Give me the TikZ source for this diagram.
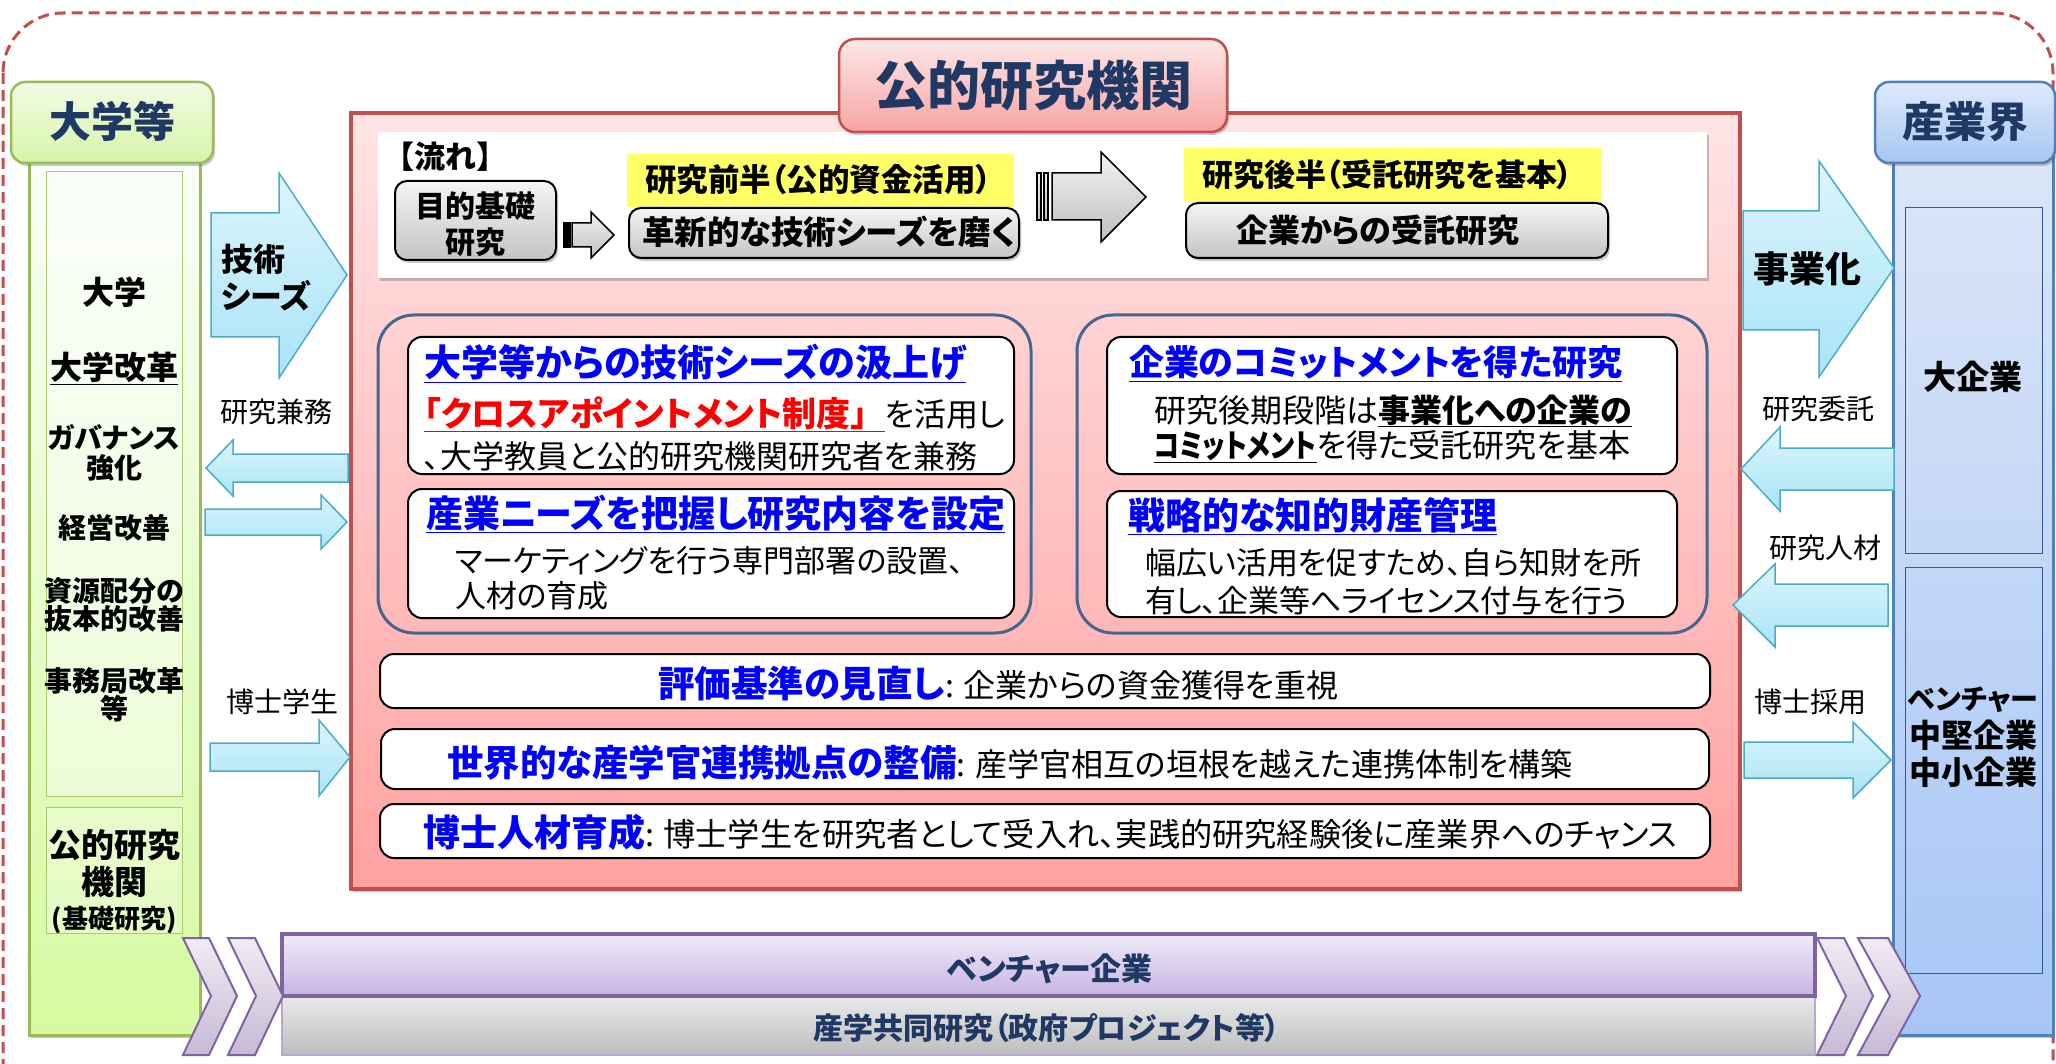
\documentclass[tikz,border=0pt]{standalone}
\usepackage{graphicx}
\usepackage{fontspec}
\setmainfont{Noto Sans CJK JP}[RawFeature=+palt]
\newfontfamily\fullw{Noto Sans CJK JP}
\usetikzlibrary{shadows}
\definecolor{dashred}{HTML}{C0504D}
\definecolor{navy}{HTML}{1F3864}
\definecolor{tblue}{HTML}{0000FF}
\definecolor{tred}{HTML}{FF0000}
\definecolor{greenB}{HTML}{9BBB59}
\definecolor{greenIn}{HTML}{A9CD6E}
\definecolor{blueB}{HTML}{4F81BD}
\definecolor{blueIn}{HTML}{2E5A9C}
\definecolor{contB}{HTML}{45678F}
\definecolor{cyanB}{HTML}{4BACC6}
\definecolor{cyanT}{HTML}{DDF5FC}
\definecolor{cyanBot}{HTML}{A8E4F8}
\definecolor{purB}{HTML}{8064A2}
\definecolor{purL}{HTML}{B9A6D6}
\definecolor{yel}{HTML}{FFFF66}
\newcommand\fs[1]{\fontsize{#1}{#1}\selectfont}
\newcommand\mkbox[6]{\node[#6, minimum width={(#4-#2)*1pt}, minimum height={(#5-#3)*1pt}] (#1) at ({(#2+#4)/2},{(#3+#5)/2}) {};}
\begin{document}
\begin{tikzpicture}[x=1pt,y=-1pt,
  boxbase/.style={rectangle,inner sep=0pt,outer sep=0pt},
  shadowsty/.style={drop shadow={shadow xshift=2pt,shadow yshift=-3pt,opacity=.3,fill=black!70}},
  txt/.style={inner sep=0pt,outer sep=0pt,text=black},
  graybox/.style={boxbase,rounded corners=12pt,draw=black,line width=2pt,top color=black!4,bottom color=black!23,shadowsty},
  grayarrow/.style={draw=black,line width=1.5pt,top color=black!5,bottom color=black!25},
  whitebox/.style={boxbase,rounded corners=14pt,draw=black,line width=2pt,fill=white},
  contbox/.style={boxbase,rounded corners=36pt,draw=contB,line width=3pt},
  cyanarrow/.style={draw=cyanB,line width=1.5pt,top color=cyanT,bottom color=cyanBot},
  chev/.style={draw=purB,line width=2pt,top color=purB!12,bottom color=purB!45},
  lbl/.style={txt,anchor=base,font=\fs{28}},
]
\useasboundingbox (0,0) rectangle (2056,1064);
\clip (0,0) rectangle (2056,1064);
\fill[white] (0,0) rectangle (2056,1064);
\draw[dashred,line width=3pt,dash pattern=on 11pt off 6pt,rounded corners=60pt] (3,13) rectangle (2053,1140);

% ---------- left column
\mkbox{ubody}{29}{150}{200}{1035}{boxbase,draw=greenB,line width=3pt,top color=green!2!white,bottom color={rgb,255:red,214;green,250;blue,160},shadowsty}
\mkbox{uhead}{11}{82}{213}{163}{boxbase,rounded corners=14pt,draw=greenB,line width=2.5pt,top color={rgb,255:red,243;green,251;blue,228},bottom color={rgb,255:red,214;green,245;blue,168},shadowsty}
\node[txt,anchor=base,font=\bfseries\fs{42},text=navy] (uheadt) at (112,138) {大学等};
\mkbox{uin1}{46}{172}{182}{796}{boxbase,draw=greenIn,line width=1pt,fill=white,fill opacity=.45}
\mkbox{uin2}{46}{807}{182}{933}{boxbase,draw=greenIn,line width=1pt,fill=white,fill opacity=.3}
\node[txt,anchor=base,font=\bfseries\fs{32}] (u1) at (114,305) {大学};
\node[txt,anchor=base,font=\bfseries\fs{32}] (u2) at (114,380) {\underline{大学改革}};
\node[txt,anchor=base,font=\bfseries\fs{28}] (u3) at (114,448) {ガバナンス};
\node[txt,anchor=base,font=\bfseries\fs{28}] (u3b) at (114,478) {強化};
\node[txt,anchor=base,font=\bfseries\fs{28}] (u4) at (114,538) {経営改善};
\node[txt,anchor=base,font=\bfseries\fs{28}] (u5) at (114,601) {資源配分の};
\node[txt,anchor=base,font=\bfseries\fs{28}] (u5b) at (114,629) {抜本的改善};
\node[txt,anchor=base,font=\bfseries\fs{28}] (u6) at (114,691) {事務局改革};
\node[txt,anchor=base,font=\bfseries\fs{28}] (u6b) at (114,719) {等};
\node[txt,anchor=base,font=\bfseries\fs{33}] (u7) at (114,857) {公的研究};
\node[txt,anchor=base,font=\bfseries\fs{33}] (u7b) at (114,894) {機関};
\node[txt,anchor=base,font=\bfseries\fs{26}] (u7c) at (114,928) {(基礎研究)};

% ---------- right column
\mkbox{ibody}{1893}{150}{2053}{1035}{boxbase,draw=blueB,line width=3pt,top color={rgb,255:red,220;green,230;blue,248},bottom color={rgb,255:red,166;green,198;blue,246},shadowsty}
\mkbox{ihead}{1875}{82}{2055}{163}{boxbase,rounded corners=14pt,draw=blueB,line width=2.5pt,top color={rgb,255:red,222;green,234;blue,251},bottom color={rgb,255:red,168;green,198;blue,244},shadowsty}
\node[txt,anchor=base,font=\bfseries\fs{42},text=navy] (iheadt) at (1965,138) {産業界};
\mkbox{iin1}{1905}{208}{2042}{553}{boxbase,draw=blueIn,line width=1pt}
\mkbox{iin2}{1905}{567}{2042}{973}{boxbase,draw=blueIn,line width=1pt}
\node[txt,anchor=base,font=\bfseries\fs{33}] (i1) at (1973,390) {大企業};
\node[txt,anchor=base,font=\bfseries\fs{28}] (i2) at (1973,709) {ベンチャー};
\node[txt,anchor=base,font=\bfseries\fs{32}] (i3) at (1973,747) {中堅企業};
\node[txt,anchor=base,font=\bfseries\fs{32}] (i4) at (1973,784) {中小企業};

% ---------- main red box
\mkbox{pub}{351}{113}{1740}{889}{boxbase,draw=dashred,line width=4pt,top color={rgb,255:red,255;green,228;blue,228},bottom color={rgb,255:red,255;green,161;blue,161},shadowsty}
\mkbox{flow}{378}{132}{1707}{278}{boxbase,fill=white,shadowsty}
\mkbox{pubttlbox}{839}{39}{1227}{132}{boxbase,rounded corners=16pt,draw=dashred,line width=2.5pt,top color={rgb,255:red,253;green,231;blue,231},bottom color={rgb,255:red,248;green,164;blue,164},shadowsty}
\node[txt,anchor=base,font=\bfseries\fs{53},text=navy] (pubttl) at (1033,106) {公的研究機関};

% flow
\node[txt,anchor=base west,font=\fullw\bfseries\fs{31}] (flowlbl) at (383,169) {【流れ】};
\mkbox{fb1}{395}{181}{556}{260}{graybox}
\node[txt,anchor=base,font=\bfseries\fs{30}] (fb1a) at (475,218) {目的基礎};
\node[txt,anchor=base,font=\bfseries\fs{30}] (fb1b) at (475,254) {研究};
\filldraw[grayarrow] (564,223) rectangle (566,247);
\filldraw[grayarrow] (568,223) rectangle (570,247);
\filldraw[grayarrow] (572,223) -- (591,223) -- (591,212) -- (614,235) -- (591,258) -- (591,247) -- (572,247) -- cycle;
\mkbox{y1}{627}{154}{1014}{207}{boxbase,fill=yel}
\node[txt,anchor=base west,font=\bfseries\fs{31.5}] (y1t) at (645,192) {研究前半（公的資金活用）};
\mkbox{fb2}{629}{208}{1019}{258}{graybox}
\node[txt,anchor=base west,font=\bfseries\fs{32.5}] (fb2t) at (642,245) {革新的な技術シーズを磨く};
\filldraw[grayarrow] (1037,173) rectangle (1041,220);
\filldraw[grayarrow] (1044,173) rectangle (1048,220);
\filldraw[grayarrow] (1052,173) -- (1101,173) -- (1101,152) -- (1146,197) -- (1101,242) -- (1101,220) -- (1052,220) -- cycle;
\mkbox{y2}{1184}{148}{1601}{202}{boxbase,fill=yel}
\node[txt,anchor=base west,font=\bfseries\fs{31}] (y2t) at (1202,187) {研究後半（受託研究を基本）};
\mkbox{fb3}{1186}{203}{1608}{258}{graybox}
\node[txt,anchor=base west,font=\bfseries\fs{32}] (fb3t) at (1236,243) {企業からの受託研究};

% containers
\mkbox{lcont}{378}{315}{1031}{633}{contbox}
\mkbox{rcont}{1077}{315}{1707}{633}{contbox}
\mkbox{b1}{408}{337}{1014}{474}{whitebox}
\mkbox{b2}{408}{489}{1014}{618}{whitebox}
\mkbox{b3}{1107}{337}{1677}{474}{whitebox}
\mkbox{b4}{1107}{491}{1677}{617}{whitebox}
\node[txt,anchor=base west,font=\bfseries\fs{37},text=tblue] (b1t) at (424,377) {\underline{大学等からの技術シーズの汲上げ}};
\node[txt,anchor=base west] (b1l2) at (424,426) {{\bfseries\fs{34}\color{tred}\underline{「クロスアポイントメント制度{\fullw 」}}}{\fs{32}を活用し}};
\node[txt,anchor=base west,font=\fs{32}] (b1l3) at (424,468) {、大学教員と公的研究機関研究者を兼務};
\node[txt,anchor=base west,font=\bfseries\fs{37},text=tblue] (b2t) at (426,527) {\underline{産業ニーズを把握し研究内容を設定}};
\node[txt,anchor=base west,font=\fs{31}] (b2l2) at (455,572) {マーケティングを行う専門部署の設置、};
\node[txt,anchor=base west,font=\fs{31}] (b2l3) at (455,607) {人材の育成};
\node[txt,anchor=base west,font=\bfseries\fs{35},text=tblue] (b3t) at (1129,376) {\underline{企業のコミットメントを得た研究}};
\node[txt,anchor=base west,font=\fs{32}] (b3l2) at (1154,422) {研究後期段階は{\bfseries\underline{事業化への企業の}}};
\node[txt,anchor=base west,font=\fs{32}] (b3l3) at (1154,457) {{\bfseries\underline{\scalebox{0.82}[1]{コミットメント}}}を得た受託研究を基本};
\node[txt,anchor=base west,font=\bfseries\fs{37},text=tblue] (b4t) at (1128,529) {\underline{戦略的な知的財産管理}};
\node[txt,anchor=base west,font=\fs{31}] (b4l2) at (1145,574) {幅広い活用を促すため、自ら知財を所};
\node[txt,anchor=base west,font=\fs{31}] (b4l3) at (1145,612) {有し、企業等へライセンス付与を行う};

% bottom boxes in red
\mkbox{e1}{380}{654}{1710}{708}{whitebox}
\mkbox{e2}{381}{729}{1709}{789}{whitebox}
\mkbox{e3}{380}{804}{1710}{858}{whitebox}
\node[txt,anchor=base west] (e1t) at (658,697) {{\bfseries\fs{36.5}\color{tblue}評価基準の見直し}{\fs{32}: 企業からの資金獲得を重視}};
\node[txt,anchor=base west] (e2t) at (447,776) {{\bfseries\fs{36.5}\color{tblue}世界的な産学官連携拠点の整備}{\fs{32}: 産学官相互の垣根を越えた連携体制を構築}};
\node[txt,anchor=base west] (e3t) at (423,846) {{\bfseries\fs{37}\color{tblue}博士人材育成}{\fs{32.2}: 博士学生を研究者として受入れ、実践的研究経験後に産業界へのチャンス}};

% ---------- arrows left
\filldraw[cyanarrow] (211,213) -- (279,213) -- (279,173) -- (347,275) -- (279,378) -- (279,337) -- (211,337) -- cycle;
\node[txt,anchor=base west,font=\bfseries\fs{32}] (seeds1) at (221,272) {技術};
\node[txt,anchor=base west,font=\bfseries\fs{32}] (seeds2) at (221,309) {シーズ};
\node[lbl] (kenmu) at (276,422) {研究兼務};
\filldraw[cyanarrow] (206,468) -- (233,440) -- (233,454) -- (348,454) -- (348,482) -- (233,482) -- (233,496) -- cycle;
\filldraw[cyanarrow] (205,509) -- (321,509) -- (321,495) -- (347,522) -- (321,549) -- (321,535) -- (205,535) -- cycle;
\node[lbl] (hakushi) at (282,712) {博士学生};
\filldraw[cyanarrow] (210,743) -- (319,743) -- (319,720) -- (350,757) -- (319,796) -- (319,771) -- (210,771) -- cycle;

% ---------- arrows right
\filldraw[cyanarrow] (1743,211) -- (1819,211) -- (1819,161) -- (1894,268) -- (1819,377) -- (1819,330) -- (1743,330) -- cycle;
\node[txt,anchor=base,font=\bfseries\fs{36}] (jigyo) at (1807,283) {事業化};
\node[lbl] (itaku) at (1818,420) {研究委託};
\filldraw[cyanarrow] (1741,469) -- (1780,427) -- (1780,448) -- (1894,448) -- (1894,490) -- (1780,490) -- (1780,511) -- cycle;
\node[lbl] (jinzai) at (1825,558) {研究人材};
\filldraw[cyanarrow] (1733,605) -- (1775,564) -- (1775,584) -- (1888,584) -- (1888,626) -- (1775,626) -- (1775,647) -- cycle;
\node[lbl] (saiyo) at (1810,712) {博士採用};
\filldraw[cyanarrow] (1744,742) -- (1853,742) -- (1853,722) -- (1891,760) -- (1853,798) -- (1853,778) -- (1744,778) -- cycle;

% ---------- bottom bars
\mkbox{joint}{282}{996}{1815}{1055}{boxbase,draw=purL,line width=2pt,top color=black!8,bottom color=black!26}
\mkbox{vent}{282}{934}{1815}{996}{boxbase,draw=purB,line width=3.5pt,top color={rgb,255:red,240;green,235;blue,249},bottom color={rgb,255:red,199;green,180;blue,227}}
\node[txt,anchor=base,font=\bfseries\fs{31},text=navy] (ventt) at (1050,980) {ベンチャー企業};
\node[txt,anchor=base,font=\bfseries\fs{30},text=navy] (jointt) at (1047,1039) {産学共同研究（政府プロジェクト等）};
\filldraw[chev] (183,938) -- (209,938) -- (237,996) -- (209,1055) -- (183,1055) -- (211,996) -- cycle;
\filldraw[chev] (228,938) -- (255,938) -- (283,996) -- (255,1055) -- (228,1055) -- (256,996) -- cycle;
\filldraw[chev] (1817,938) -- (1844,938) -- (1873,996) -- (1844,1055) -- (1817,1055) -- (1846,996) -- cycle;
\filldraw[chev] (1858,938) -- (1888,938) -- (1920,996) -- (1888,1055) -- (1858,1055) -- (1890,996) -- cycle;
\end{tikzpicture}
\end{document}
